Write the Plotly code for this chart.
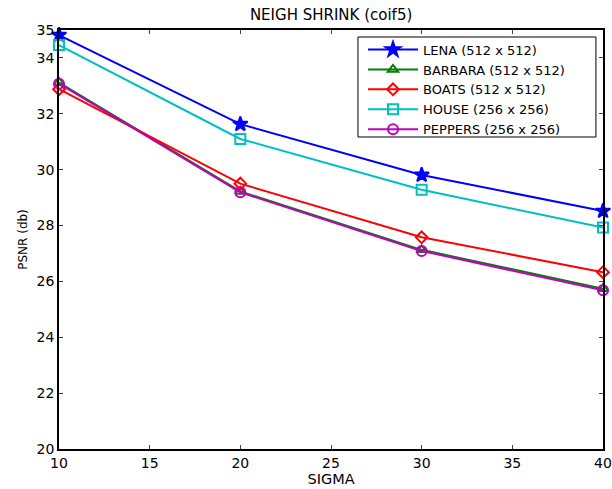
import plotly.graph_objects as go

sigma = [10, 20, 30, 40]
lena = [34.82, 31.63, 29.81, 28.52]
barbara = [33.12, 29.22, 27.13, 25.74]
boats = [32.88, 29.50, 27.58, 26.33]
house = [34.46, 31.10, 29.28, 27.93]
peppers = [33.08, 29.19, 27.09, 25.68]

names = ["LENA (512 x 512)", "BARBARA (512 x 512)", "BOATS (512 x 512)",
         "HOUSE (256 x 256)", "PEPPERS (256 x 256)"]
series = [lena, barbara, boats, house, peppers]
colors = ["#0000ff", "#008000", "#ff0000", "#00bfbf", "#bf00bf"]
symbols = ["star", "triangle-up-open", "diamond-open", "square-open", "circle-open"]
sizes = [11, 9, 9, 10, 10]

FONT = "DejaVu Sans, Arial, sans-serif"

fig = go.Figure()
for n, s, c, sym, sz in zip(names, series, colors, symbols, sizes):
    fig.add_trace(go.Scatter(
        x=sigma, y=s, name=n, mode="lines+markers",
        line=dict(color=c, width=2),
        marker=dict(symbol=sym, size=sz, color=c, line=dict(color=c, width=2)),
        cliponaxis=False,
    ))

# legend frame (MATLAB-style box with extra right padding)
fig.add_shape(type="rect", xref="paper", yref="paper",
              x0=0.5496, x1=0.987, y0=0.7446, y1=0.9833,
              line=dict(color="black", width=1), fillcolor="white", layer="above")

fig.update_layout(
    width=612, height=489,
    margin=dict(l=59, r=9, t=30, b=40),
    paper_bgcolor="white", plot_bgcolor="white",
    font=dict(family=FONT, size=14, color="black"),
    title=dict(text="NEIGH SHRINK (coif5)", x=0.541, xanchor="center", y=0.969,
               yanchor="middle", font=dict(size=15)),
    showlegend=True,
    legend=dict(x=0.5588, y=0.989, xanchor="left", yanchor="top",
                borderwidth=0, bgcolor="rgba(0,0,0,0)",
                font=dict(size=13), tracegroupgap=0, itemwidth=50),
    xaxis=dict(range=[10, 40], tickvals=[10, 15, 20, 25, 30, 35, 40],
               ticks="inside", ticklen=4, mirror="ticks", showline=True,
               linecolor="black", linewidth=1.5, showgrid=False, zeroline=False,
               automargin=False,
               title=dict(text="SIGMA", standoff=4, font=dict(size=14.5)),
               tickfont=dict(size=14)),
    yaxis=dict(range=[20, 35], tickvals=[20, 22, 24, 26, 28, 30, 32, 34, 35],
               ticks="inside", ticklen=4, mirror="ticks", showline=True,
               linecolor="black", linewidth=1.5, showgrid=False, zeroline=False,
               automargin=False,
               title=dict(text="PSNR (db)", standoff=6, font=dict(size=12)),
               tickfont=dict(size=14)),
)

fig.write_html("out.html")
